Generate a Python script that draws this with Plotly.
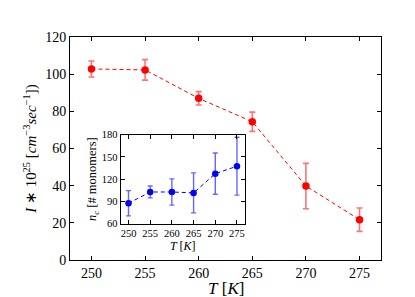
import plotly.graph_objects as go

temps = [250, 255, 260, 265, 270, 275]
rate = [102.8, 102.3, 87.0, 74.4, 39.8, 21.7]
rate_err = [4.3, 5.5, 3.6, 5.2, 12.2, 6.3]
nc = [87.5, 102.7, 102.7, 101.5, 127.4, 137.5]
nc_err = [17, 8, 17.7, 27, 27.8, 39]

main_yticks = [0, 20, 40, 60, 80, 100, 120]
inset_yticks = [60, 90, 120, 150, 180]

FONT = "Liberation Serif"

fig = go.Figure()
fig.add_trace(go.Scatter(
    x=temps, y=rate, mode="lines+markers",
    line=dict(color="red", width=1, dash="4px,3px"),
    marker=dict(color="red", size=7.5),
    error_y=dict(type="data", array=rate_err, color="rgba(255,0,0,0.55)", thickness=1.6, width=3),
    xaxis="x", yaxis="y", showlegend=False))
fig.add_trace(go.Scatter(
    x=temps, y=nc, mode="lines+markers",
    line=dict(color="blue", width=1, dash="4px,3px"),
    marker=dict(color="blue", size=6.5),
    error_y=dict(type="data", array=nc_err, color="rgba(0,0,255,0.6)", thickness=1.4, width=2.5),
    xaxis="x2", yaxis="y2", showlegend=False))

axis_common = dict(showline=True, linecolor="black", linewidth=1, mirror="allticks",
                   ticks="inside", ticklen=4, tickcolor="black", showgrid=False, zeroline=False)

fig.update_layout(
    width=415, height=297,
    margin=dict(l=62, r=42, t=29, b=45),
    paper_bgcolor="white", plot_bgcolor="white",
    font=dict(family=FONT, color="black"),
    xaxis=dict(domain=[0, 1], range=[248, 277], tickvals=temps,
               tickfont=dict(size=14), **axis_common),
    yaxis=dict(domain=[0, 1], range=[0, 120], tickvals=main_yticks,
               tickfont=dict(size=14),
               title=dict(text="<i>I</i> ∗ 10<sup>25</sup> [<i>cm</i><sup>−3</sup><i>sec</i><sup>−1</sup>])",
                          font=dict(size=15), standoff=4),
               **axis_common),
    xaxis2=dict(domain=[0.163, 0.562], anchor="y2", range=[248.2, 276.8], tickvals=temps,
                tickfont=dict(size=10.5), title=dict(text="<i>T</i> [<i>K</i>]", font=dict(size=12), standoff=0),
                **axis_common),
    yaxis2=dict(domain=[0.163, 0.562], anchor="x2", range=[60, 180], tickvals=inset_yticks,
                tickfont=dict(size=10.5), title=dict(text="<i>n<sub>c</sub></i> [# monomers]", font=dict(size=12.5), standoff=2),
                **axis_common),
    annotations=[dict(text="<i>T</i> [<i>K</i>]", xref="paper", yref="paper", x=0.5, y=-0.13,
                      xanchor="center", yanchor="middle", showarrow=False, font=dict(size=17))],
)

fig.write_html("out.html")
